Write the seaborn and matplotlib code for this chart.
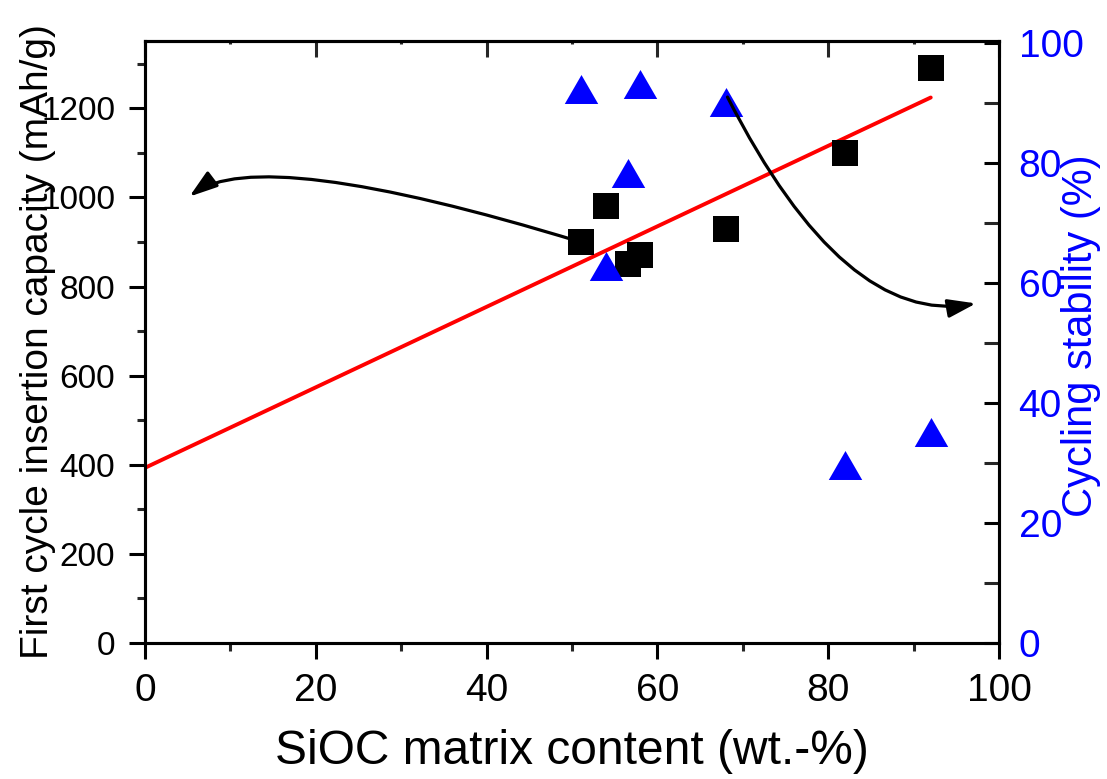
import numpy as np
import pandas as pd
import matplotlib
matplotlib.use("Agg")
import matplotlib.pyplot as plt
from matplotlib.ticker import MultipleLocator
import seaborn as sns

# --- data ---
siocContent = [51, 54, 56.5, 58, 68, 82, 92]
capacity = [900, 980, 850, 872, 930, 1100, 1290]
stability = [92.4, 62.8, 78.4, 93.1, 90.1, 29.6, 35.2]

df = pd.DataFrame({"sioc": siocContent, "capacity": capacity, "stability": stability})

sns.set_theme(style="ticks")
plt.rcParams['font.family'] = ['Liberation Sans', 'DejaVu Sans']
plt.rcParams['axes.linewidth'] = 2.2
plt.rcParams['text.color'] = 'black'
plt.rcParams['axes.labelcolor'] = 'black'

fig = plt.figure(figsize=(11.07, 7.79), dpi=100)
ax = fig.add_axes([0.131, 0.1746, 0.7715, 0.7732])
ax2 = ax.twinx()

# linear fit of capacity, drawn from 0 to the last sample
slope, intercept = np.polyfit(df["sioc"], df["capacity"], 1)
fitX = np.array([0, df["sioc"].max()])
ax.plot(fitX, slope * fitX + intercept, color="red", lw=2.8, zorder=2)

sns.scatterplot(data=df, x="sioc", y="capacity", ax=ax, marker="s", s=340,
                color="black", edgecolor="black", linewidth=0, zorder=3)

triangle = [(0, 0.433), (-0.5, -0.433), (0.5, -0.433)]
sns.scatterplot(data=df, x="sioc", y="stability", ax=ax2, marker=triangle, s=580,
                color="blue", edgecolor="blue", linewidth=0, zorder=3)

# curved arrows pointing to each axis
arrowStyle = "-|>,head_length=0.85,head_width=0.28"
ax.annotate("", xy=(5.2, 1002), xytext=(51, 900),
            arrowprops=dict(arrowstyle=arrowStyle, color="black", lw=2.3, mutation_scale=20,
                            shrinkA=0, shrinkB=0,
                            connectionstyle="angle3,angleA=163,angleB=37"), zorder=4)
ax2.annotate("", xy=(97.3, 56.6), xytext=(68.2, 91.0),
             arrowprops=dict(arrowstyle=arrowStyle, color="black", lw=2.3, mutation_scale=20,
                             shrinkA=0, shrinkB=0,
                             connectionstyle="angle3,angleA=-63,angleB=10"), zorder=5)

ax.set_xlim(0, 100)
ax.set_ylim(0, 1352)
ax2.set_ylim(0, 100.4)

ax.xaxis.set_major_locator(MultipleLocator(20))
ax.xaxis.set_minor_locator(MultipleLocator(10))
ax.yaxis.set_major_locator(MultipleLocator(200))
ax.yaxis.set_minor_locator(MultipleLocator(100))
ax2.yaxis.set_major_locator(MultipleLocator(20))
ax2.yaxis.set_minor_locator(MultipleLocator(10))

ax.tick_params(axis="x", which="major", direction="out", length=11.5, width=2.2,
               labelsize=28, pad=10, colors="black")
ax.tick_params(axis="x", which="minor", direction="out", length=6, width=2.2)
ax.tick_params(axis="y", which="major", direction="out", length=11.5, width=2.2,
               labelsize=24, pad=10, colors="black")
ax.tick_params(axis="y", which="minor", direction="out", length=6, width=2.2)
ax2.tick_params(axis="y", which="major", direction="in", length=11, width=2.2,
                labelsize=28, pad=14, colors="black", labelcolor="blue")
ax2.tick_params(axis="y", which="minor", direction="in", length=11, width=2.2)

top = ax.secondary_xaxis("top")
top.xaxis.set_major_locator(MultipleLocator(20))
top.xaxis.set_minor_locator(MultipleLocator(10))
top.tick_params(axis="x", which="major", direction="in", length=11.5, width=2.2, labeltop=False)
top.tick_params(axis="x", which="minor", direction="in", length=2.5, width=2.2)
top.spines["top"].set_linewidth(2.2)

ax.set_xlabel("SiOC matrix content (wt.-%)", fontsize=34.5, color="black")
ax.set_ylabel("First cycle insertion capacity (mAh/g)", fontsize=28, color="black")
ax2.set_ylabel("Cycling stability (%)", fontsize=30, color="blue")
ax.xaxis.set_label_coords(0.5, -0.142)
ax.yaxis.set_label_coords(-0.104, 0.5)
ax2.yaxis.set_label_coords(1.072, 0.51)

for a in (ax, ax2):
    for s in a.spines.values():
        s.set_linewidth(2.2)
        s.set_color("black")

fig.savefig("out.png", dpi=100)
